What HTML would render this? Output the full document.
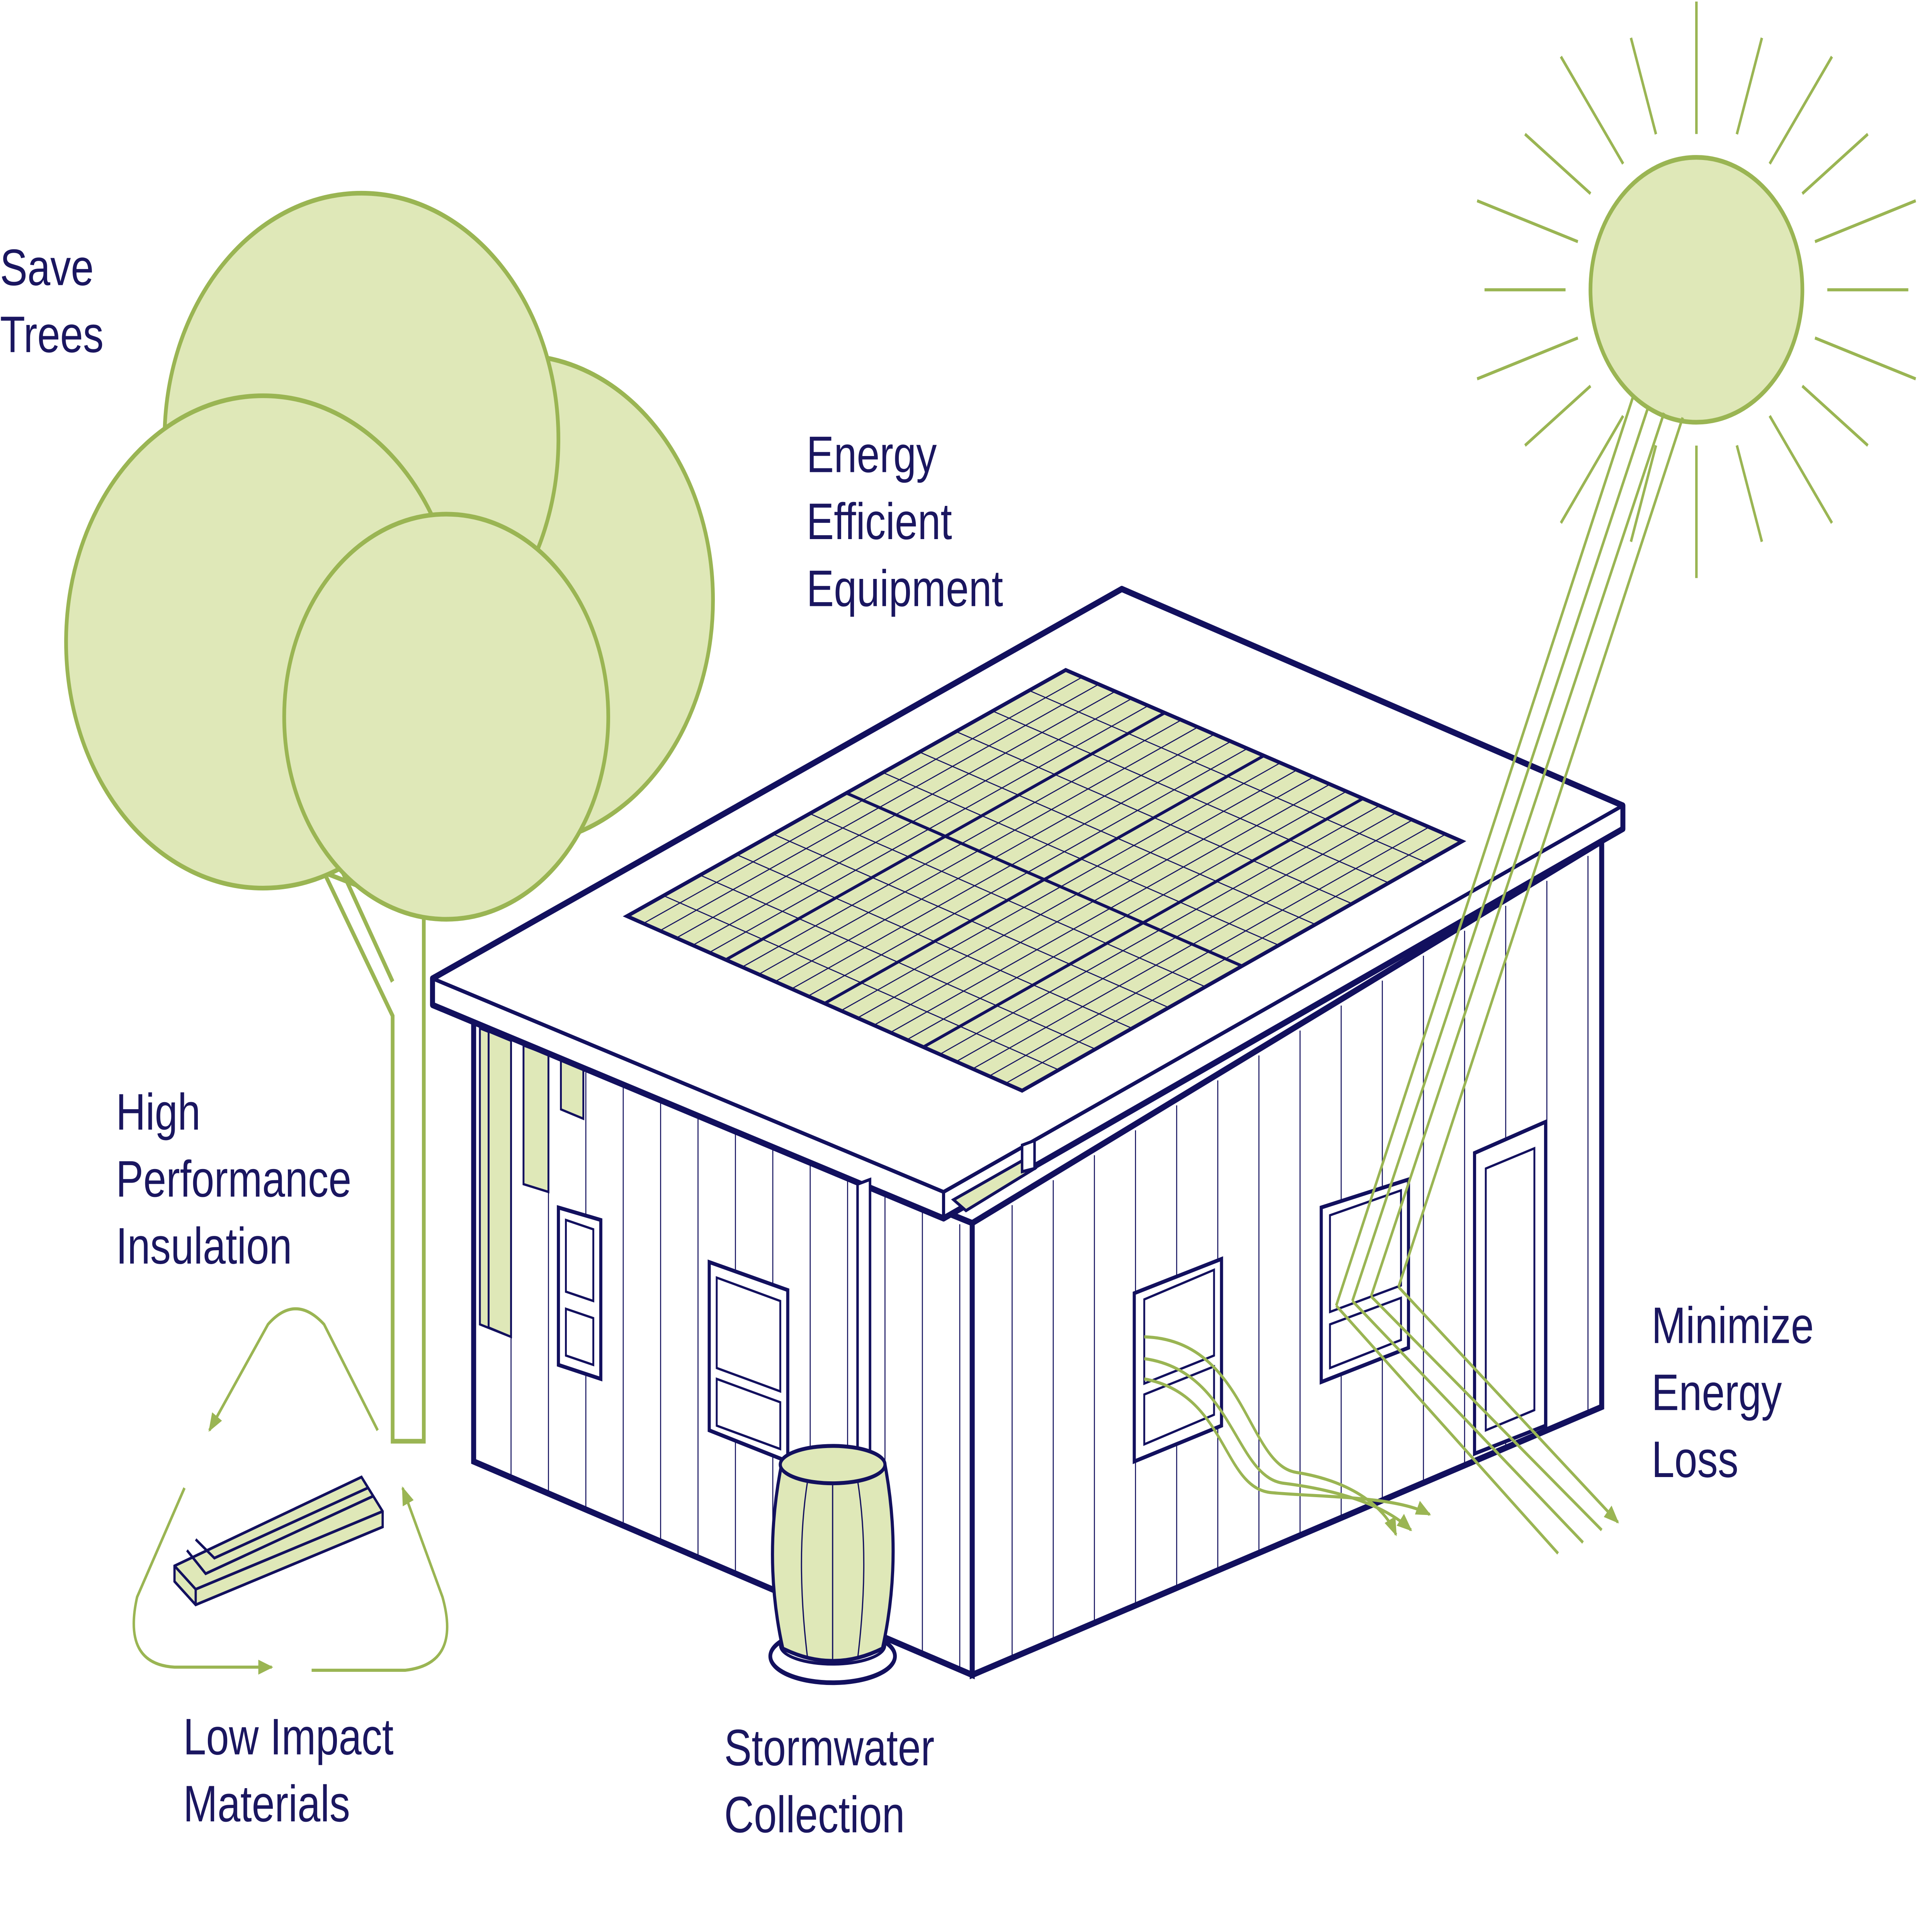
<!DOCTYPE html>
<html><head><meta charset="utf-8"><style>html,body{margin:0;padding:0;background:#fff;width:100%;height:100%;overflow:hidden}svg{display:block;position:absolute;left:0;top:0;width:100vw;height:100vh}</style></head>
<body>
<svg id="s" viewBox="0 0 1550 1231" preserveAspectRatio="none" xmlns="http://www.w3.org/2000/svg">
<defs>
<marker id="ar" viewBox="0 0 10 10" refX="9" refY="5" markerWidth="6" markerHeight="6" orient="auto"><path d="M0,1 L10,5 L0,9 Z" fill="#9ab553"/></marker>
</defs>
<g font-family="Liberation Sans, sans-serif" font-size="33" fill="#1a1660">
<text x="0" y="183">Save</text><text x="0" y="226">Trees</text>
<text x="647" y="303">Energy</text><text x="647" y="346">Efficient</text><text x="647" y="389">Equipment</text>
<text x="93" y="725">High</text><text x="93" y="768">Performance</text><text x="93" y="811">Insulation</text>
<text x="1325" y="862">Minimize</text><text x="1325" y="905">Energy</text><text x="1325" y="948">Loss</text>
<text x="147" y="1126">Low Impact</text><text x="147" y="1169">Materials</text>
<text x="581" y="1133">Stormwater</text><text x="581" y="1176">Collection</text>
</g>
<g id="sun" stroke="#9ab553" stroke-width="2" fill="none"></g>
<circle cx="1361" cy="186" r="85" fill="#dfe8b8" stroke="#9ab553" stroke-width="3"/>
<g stroke="#9ab553" stroke-width="3" fill="#dfe8b8">
<path d="M260,560 L315,652 L315,925 L340,925 L340,585 Z" fill="#fff"/>
<path d="M275,560 L315,630" fill="none"/>
<circle cx="415" cy="385" r="157"/>
<circle cx="290" cy="282" r="158"/>
<circle cx="211" cy="412" r="158"/>
<circle cx="358" cy="460" r="130"/>
</g>
<g stroke="#12105e" fill="#fff">
<path d="M380,655 L780,785 L780,1075 L380,938 Z" stroke-width="4"/>
<path d="M780,785 L1285,540 L1285,903 L780,1075 Z" stroke-width="4"/>
</g>
<g id="siding" stroke="#12105e" stroke-width="0.8"></g>
<g fill="#dfe8b8" stroke="#12105e" stroke-width="1.5">
<path d="M385,660 L410,668 L410,858 L385,850 Z"/>
<path d="M392,662 L410,668 L410,858 L392,852 Z"/>
<path d="M420,671 L440,677 L440,765 L420,760 Z"/>
<path d="M450,680 L468,686 L468,718 L450,712 Z"/>
</g>
<g stroke="#12105e" stroke-width="4" fill="#fff" stroke-linejoin="round">
<path d="M347,628 L900,378 L1302,517 L1302,532 L757,782 L347,645 Z"/>
<path d="M347,628 L757,765 L1302,517 M757,765 L757,782" fill="none" stroke-width="2.5"/>
</g>
<g id="panels"></g>
<path d="M765,770 L820,745 L830,750 L775,777 Z" fill="#dfe8b8" stroke="#12105e" stroke-width="2"/>
<path d="M820,735 L830,732 L830,750 L820,752 Z" fill="#fff" stroke="#12105e" stroke-width="2"/>
<g stroke="#12105e" stroke-width="2.5" fill="#fff">
<path d="M448,775 L482,783 L482,885 L448,876 Z"/>
<path d="M454,783 L476,789 L476,835 L454,829 Z M454,840 L476,846 L476,876 L454,870 Z" stroke-width="1.5"/>
<path d="M569,810 L632,828 L632,938 L569,918 Z"/>
<path d="M575,820 L626,835 L626,893 L575,878 Z M575,885 L626,900 L626,930 L575,915 Z" stroke-width="1.5"/>
<path d="M910,830 L980,808 L980,915 L910,938 Z"/>
<path d="M918,834 L974,815 L974,870 L918,888 Z M918,895 L974,877 L974,908 L918,927 Z" stroke-width="1.5"/>
<path d="M1060,775 L1130,757 L1130,865 L1060,887 Z"/>
<path d="M1067,780 L1124,764 L1124,825 L1067,842 Z M1067,850 L1124,833 L1124,860 L1067,878 Z" stroke-width="1.5"/>
<path d="M1183,740 L1240,720 L1240,915 L1183,933 Z"/>
<path d="M1192,750 L1231,737 L1231,905 L1192,918 Z" stroke-width="1.5"/>
</g>
<path d="M688,760 L698,757 L698,935 L688,935 Z" fill="#fff" stroke="#12105e" stroke-width="2"/>
<ellipse cx="668" cy="1063" rx="50" ry="17" fill="#fff" stroke="#12105e" stroke-width="3"/>
<ellipse cx="668" cy="1056" rx="42" ry="12" fill="#fff" stroke="#12105e" stroke-width="2"/>
<path d="M627,940 Q612,1000 628,1058 Q668,1074 708,1058 Q724,1000 710,940 Z" fill="#dfe8b8" stroke="#12105e" stroke-width="2.5"/>
<ellipse cx="668" cy="940" rx="42" ry="12" fill="#dfe8b8" stroke="#12105e" stroke-width="2.5"/>
<path d="M648,950 Q638,1000 648,1065 M668,952 L668,1068 M688,950 Q698,1000 688,1065" stroke="#12105e" stroke-width="1" fill="none"/>
<g stroke="#9ab553" stroke-width="2" fill="none">
<path d="M1310,255 L1072,838 M1322,262 L1085,835 M1335,265 L1100,832 M1350,268 L1122,826"/>
<path d="M1072,838 L1250,997 M1085,835 L1270,990 M1100,832 L1285,982 M1122,826 L1298,977" marker-end="url(#ar)"/>
<path d="M918,858 C1000,860 1000,940 1040,945 S1110,965 1120,985" marker-end="url(#ar)"/>
<path d="M918,872 C990,880 990,948 1030,952 S1110,965 1132,982" marker-end="url(#ar)"/>
<path d="M918,885 C985,895 980,955 1020,958 S1120,960 1147,972" marker-end="url(#ar)"/>
</g>
<g stroke="#9ab553" stroke-width="2" fill="none">
<path d="M303,918 L260,850 Q237,830 215,850 L168,918" marker-end="url(#ar)"/>
<path d="M148,955 L110,1025 Q98,1068 140,1070 L218,1070" marker-end="url(#ar)"/>
<path d="M250,1072 L325,1072 Q370,1068 355,1025 L323,955" marker-end="url(#ar)"/>
</g>
<g fill="#dfe8b8" stroke="#12105e" stroke-width="1.8">
<path d="M140,1005 L290,948 L307,970 L307,980 L157,1030 L140,1015 Z"/>
<path d="M140,1005 L157,1020 L307,970 M157,1020 L157,1030 M150,995 L165,1010 L300,960 M157,988 L172,1000 L295,955" fill="none"/>
</g>
<script>
(function(){
var NS="http://www.w3.org/2000/svg";
function el(p,t,a){var e=document.createElementNS(NS,t);for(var k in a)e.setAttribute(k,a[k]);p.appendChild(e);return e;}
var sun=document.getElementById("sun");
for(var i=0;i<20;i++){var a=i*Math.PI*2/20-Math.PI/2;var r1=i%2?105:100,r2=i%2?170:185;
el(sun,"line",{x1:1361+Math.cos(a)*r1,y1:186+Math.sin(a)*r1,x2:1361+Math.cos(a)*r2,y2:186+Math.sin(a)*r2});}
var sd=document.getElementById("siding");
for(var x=410;x<780;x+=30){var t=(x-380)/400;el(sd,"line",{x1:x,y1:655+130*t+4,x2:x,y2:938+137*t});}
for(var x=812;x<1285;x+=33){var t=(x-780)/505;el(sd,"line",{x1:x,y1:785-245*t+4,x2:x,y2:1075-172*t});}
var pg=document.getElementById("panels");
var A=[503,588],B=[855,430],C=[1173,540],D=[820,700];
function P(u,v){var x=A[0]+(B[0]-A[0])*u+(D[0]-A[0])*v+(A[0]-B[0]+C[0]-D[0])*u*v;var y=A[1]+(B[1]-A[1])*u+(D[1]-A[1])*v+(A[1]-B[1]+C[1]-D[1])*u*v;return x+","+y;}
el(pg,"path",{d:"M"+P(0,0)+" L"+P(1,0)+" L"+P(1,1)+" L"+P(0,1)+" Z",fill:"#dfe8b8",stroke:"#12105e","stroke-width":2.5});
for(var i=1;i<12;i++){var u=i/12;el(pg,"path",{d:"M"+P(u,0)+" L"+P(u,1),stroke:"#12105e","stroke-width":i%6?0.7:2});}
for(var j=1;j<24;j++){var v=j/24;el(pg,"path",{d:"M"+P(0,v)+" L"+P(1,v),stroke:"#12105e","stroke-width":j%6?0.7:2});}
})();
</script>
</svg>
</body></html>
